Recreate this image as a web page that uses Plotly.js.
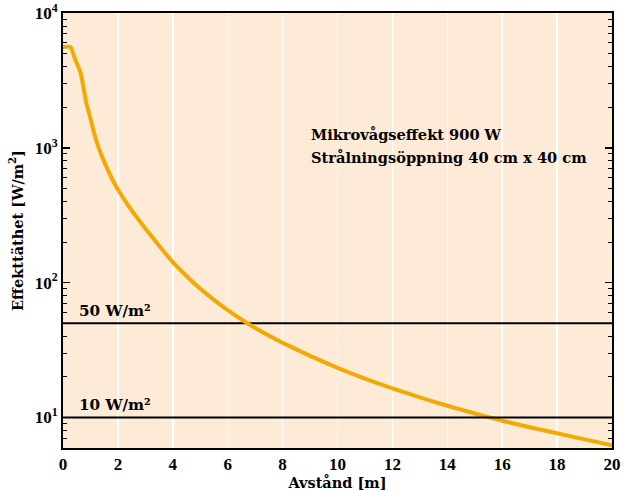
<!DOCTYPE html>
<html>
<head>
<meta charset="utf-8">
<script src="https://cdn.plot.ly/plotly-3.0.1.min.js"></script>
<style>html,body{margin:0;padding:0;background:#fff;}#chart{width:624px;height:491px;}</style>
</head>
<body>
<div id="chart"></div>
<script>
// Distance [m]
const distance = [0, 0.27, 0.45, 0.64, 0.85, 1.0, 1.15, 1.3, 1.5, 1.75, 2.0, 2.5, 3.0, 3.5, 4.0, 4.5, 5.0, 5.5, 6.0, 7.0, 8.0, 9.0, 10.0, 11.0, 12.0, 13.0, 14.0, 15.0, 16.0, 17.0, 18.0, 19.0, 20.0];
// Power density [W/m^2]
const density = [5600, 5600, 4500, 3600, 2150, 1650, 1250, 1000, 790, 610, 490, 343, 252, 188, 142, 112, 90, 74.5, 62.5, 46, 35.8, 28.6, 23.3, 19.4, 16.4, 14.1, 12.2, 10.7, 9.45, 8.45, 7.62, 6.87, 6.2];
// Reference levels
const limitX = [0, 20];
const limit50 = [50, 50];
const limit10 = [10, 10];
const limitLabels = ["50 W/m²", "10 W/m²"];
const yTickVals = [10, 100, 1000, 10000];
const yTickText = ["10<sup>1</sup>", "10<sup>2</sup>", "10<sup>3</sup>", "10<sup>4</sup>"];
const yMinorVals = [7, 8, 9, 20, 30, 40, 50, 60, 70, 80, 90, 200, 300, 400, 500, 600, 700, 800, 900, 2000, 3000, 4000, 5000, 6000, 7000, 8000, 9000];
const infoLines = ["Mikrovågseffekt 900 W", "Strålningsöppning 40 cm x 40 cm"];

const TICKFONT = "Liberation Serif, serif";
const TEXTFONT = "DejaVu Serif, serif";
const Y_RANGE = [Math.log10(5.93), 4];

const traces = [
  {x: limitX, y: limit50, mode: "lines", line: {color: "#000", width: 2}, hoverinfo: "skip"},
  {x: limitX, y: limit10, yaxis: "y2", mode: "lines", line: {color: "#000", width: 2}, hoverinfo: "skip"},
  {x: distance, y: density, mode: "lines", line: {color: "#f2a900", width: 4, shape: "spline", smoothing: 0.4}}
];

const layout = {
  width: 624, height: 491,
  margin: {l: 63, r: 12, t: 13, b: 43},
  paper_bgcolor: "#ffffff",
  plot_bgcolor: "#fdebd8",
  showlegend: false,
  font: {family: TEXTFONT, color: "#000", size: 15},
  xaxis: {
    range: [0, 20], dtick: 2, tick0: 0,
    showgrid: true, gridcolor: "#ffffff", gridwidth: 1.5,
    zeroline: false,
    showline: true, linecolor: "#000", linewidth: 2, mirror: true,
    ticks: "", tickfont: {family: TICKFONT, size: 17, weight: "bold"},
    title: {text: "<b>Avstånd [m]</b>", font: {family: TEXTFONT, size: 14.5}, standoff: 4}
  },
  yaxis: {
    type: "log", range: Y_RANGE,
    tickmode: "array", tickvals: yTickVals, ticktext: yTickText,
    showgrid: false, zeroline: false,
    showline: true, linecolor: "#000", linewidth: 2, mirror: "ticks",
    ticks: "inside", ticklen: 7, tickcolor: "#000", tickwidth: 1.5,
    tickfont: {family: TICKFONT, size: 17, weight: "bold"},
    title: {text: "<b>Effekttäthet [W/m<sup>2</sup>]</b>", font: {family: TEXTFONT, size: 14.5}, standoff: 8}
  },
  yaxis2: {
    type: "log", range: Y_RANGE, overlaying: "y", side: "left",
    tickmode: "array", tickvals: yMinorVals, showticklabels: false,
    showgrid: false, zeroline: false, showline: false, mirror: "ticks",
    ticks: "inside", ticklen: 4, tickcolor: "#000", tickwidth: 1
  },
  annotations: [
    {x: 0.5, y: Math.log10(limit50[0]), xref: "x", yref: "y", text: "<b>" + limitLabels[0] + "</b>",
     showarrow: false, xanchor: "left", yanchor: "bottom", yshift: 1, font: {family: TEXTFONT, size: 15.2}},
    {x: 0.5, y: Math.log10(limit10[0]), xref: "x", yref: "y", text: "<b>" + limitLabels[1] + "</b>",
     showarrow: false, xanchor: "left", yanchor: "bottom", yshift: 1, font: {family: TEXTFONT, size: 15.2}},
    {x: 8.95, y: Math.log10(1250), xref: "x", yref: "y", text: "<b>" + infoLines[0] + "</b>",
     showarrow: false, xanchor: "left", yanchor: "middle", font: {family: TEXTFONT, size: 14.6}},
    {x: 8.95, y: Math.log10(850), xref: "x", yref: "y", text: "<b>" + infoLines[1] + "</b>",
     showarrow: false, xanchor: "left", yanchor: "middle", font: {family: TEXTFONT, size: 14.6}}
  ]
};

Plotly.newPlot("chart", traces, layout, {displayModeBar: false, staticPlot: true});
</script>
</body>
</html>
